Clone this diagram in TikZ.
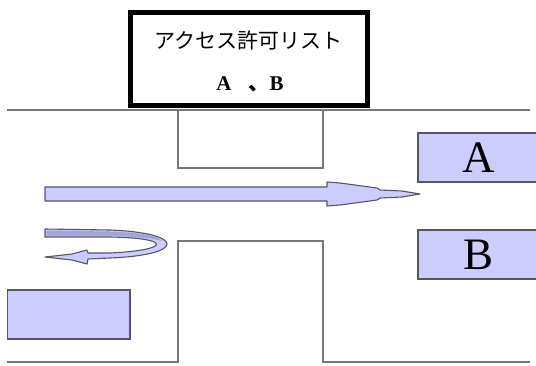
\documentclass[tikz,border=0pt]{standalone}
\usepackage{fontspec}
\setmainfont{Liberation Serif}
\newfontfamily\jp{Noto Sans CJK JP}
\definecolor{lav}{HTML}{CCCCFF}
\definecolor{lavdark}{HTML}{A4A4DC}
\definecolor{edge}{HTML}{555566}
\definecolor{wall}{HTML}{787878}
\begin{document}
\begin{tikzpicture}[x=1pt,y=-1pt,
  wallline/.style={draw=wall,line width=2.5pt},
  lavbox/.style={draw=edge,fill=lav,line width=1.5pt,inner sep=0pt},
  listbox/.style={draw=black,fill=white,line width=5pt,inner sep=0pt},
  arrowshape/.style={fill=lav,draw=edge,line width=1.1pt,line join=round}]
\useasboundingbox (0,0) rectangle (536,365);
\fill[white] (0,0) rectangle (536,365);
% walls
\draw[wallline] (7,110) -- (530,110);
\draw[wallline] (178,110) -- (178,168) -- (323,168) -- (323,110);
\draw[wallline] (7,362) -- (178,362) -- (178,241) -- (323,241) -- (323,362) -- (530,362);
% access list box
\node[listbox,minimum width=237pt,minimum height=93pt] (acl) at (249,59) {};
\node[font=\jp\fontsize{21}{24}\selectfont,inner sep=0pt] (acltitle) at (248.5,40) {アクセス許可リスト};
\node[font=\fontsize{21}{24}\selectfont\bfseries,inner sep=0pt,anchor=base] (acllist) at (250,90) {A\hspace{17pt}{\jp 、}B};
% hosts
\node[lavbox,minimum width=122pt,minimum height=49pt,font=\fontsize{45}{50}\selectfont] (hostA) at (479,157.5) {A};
\node[lavbox,minimum width=122pt,minimum height=49pt,font=\fontsize{45}{50}\selectfont] (hostB) at (479,254.5) {B};
\node[lavbox,minimum width=122.5pt,minimum height=49pt] (hostC) at (68.75,314.5) {};
% straight arrow (passes)
\filldraw[arrowshape] (45,187) -- (327,187) -- (327,182) -- (340,183) -- (377,188) -- (380,190) -- (402,191) -- (420,194) -- (402,197) -- (380,198) -- (377,200) -- (340,205) -- (327,206) -- (327,201) -- (45,201) -- cycle;
% turning arrow (rejected)
\filldraw[arrowshape] (45,229) -- (110,230) .. controls (186,233) and (186,255) .. (110,258) -- (88,259) -- (87,264) -- (72,260) -- (45,257) -- (72,254) -- (87,250) -- (88,253) -- (110,253) .. controls (172,250) and (172,238) .. (110,237) -- (45,237) -- cycle;
\fill[lavdark] (46.5,230.5) -- (110,231.5) .. controls (145,233) and (158,236) .. (162,241) .. controls (150,238) and (135,236.5) .. (110,236) -- (46.5,236) -- cycle;
\end{tikzpicture}
\end{document}
